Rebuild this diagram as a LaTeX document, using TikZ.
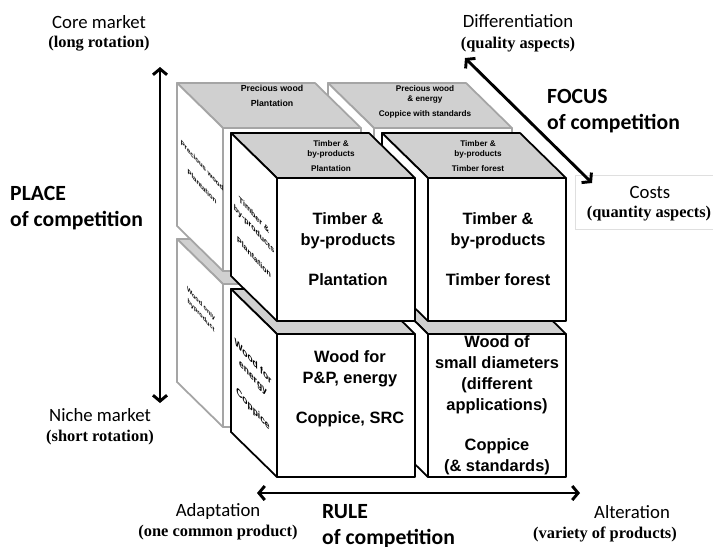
\documentclass[tikz,border=0pt]{standalone}
\usepackage{fontspec}
\setmainfont{Carlito}
\newfontfamily\timesfont{Liberation Serif}
\newfontfamily\arialfont{Liberation Sans}
\usepackage{tikz}
\usetikzlibrary{arrows.meta}

\definecolor{topgray}{RGB}{208,208,208}
\definecolor{backgray}{RGB}{165,165,165}

\tikzstyle{market} = [inner sep=0pt, font=\fontsize{16}{19}\selectfont]
\tikzstyle{subnote} = [inner sep=0pt, font=\timesfont\bfseries\fontsize{14}{17}\selectfont]
\tikzstyle{axistitle} = [inner sep=0pt, anchor=west, align=left, font=\bfseries\fontsize{18.5}{22}\selectfont]
\tikzstyle{frontlabel} = [inner sep=0pt, align=center, font=\arialfont\bfseries\fontsize{14}{18}\selectfont]
\tikzstyle{toplabel} = [inner sep=0pt, align=center, font=\arialfont\bfseries\fontsize{7}{8.5}\selectfont]
\tikzstyle{sidelabel} = [inner sep=0pt, align=center, yslant=-1.1, xscale=0.85, font=\arialfont\bfseries\fontsize{7}{12}\selectfont]
\tikzstyle{arrow} = [line width=2.5pt, <->, >={Straight Barb[length=5pt,width=12pt]}]
\tikzstyle{frontline} = [line width=1.5pt, draw=black, line join=round]
\tikzstyle{backline} = [line width=1.5pt, draw=backgray, line join=round]

% one block: front face top-left corner, line style
\newcommand{\woodcube}[3]{%
  \filldraw[#3, fill=white] (#1,#2) rectangle ++(138,143);
  \filldraw[#3, fill=topgray] (#1,#2) -- ++(-46,-45) -- ++(138,0) -- ++(46,45) -- cycle;
  \filldraw[#3, fill=white] (#1,#2) -- ++(-46,-45) -- ++(0,143) -- ++(46,45) -- cycle;
}

\begin{document}
\begin{tikzpicture}[x=0.03cm, y=-0.03cm]
  \useasboundingbox (0,0) rectangle (713,546);

  % back row
  \woodcube{374}{284}{backline}
  \woodcube{223}{284}{backline}
  \woodcube{374}{128}{backline}
  \woodcube{223}{128}{backline}
  % front row
  \woodcube{428}{334}{frontline}
  \woodcube{277}{334}{frontline}
  \woodcube{428}{178}{frontline}
  \woodcube{277}{178}{frontline}

  % back blocks
  \node(preciousTop)[toplabel, font=\arialfont\bfseries\fontsize{7.5}{9}\selectfont] at (272,96) {Precious wood\\[4pt]Plantation};
  \node(preciousSide)[sidelabel, font=\arialfont\bfseries\fontsize{6}{9}\selectfont] at (202,176) {Precious wood\\[9pt]Plantation};
  \node(energyTop)[toplabel] at (425,102) {Precious wood\\\& energy\\[4pt]Coppice with standards};
  \node(byproductSide)[sidelabel, font=\arialfont\bfseries\fontsize{5.5}{10}\selectfont] at (201,310) {Wood only\\byproduct};

  % front blocks
  \node(plantTop)[toplabel] at (331,156) {Timber \&\\by-products\\[4pt]Plantation};
  \node(plantSide)[sidelabel] at (254,236) {Timber \&\\by-products\\[12pt]Plantation};
  \node(plantFront)[frontlabel] at (348,249) {Timber \&\\by-products\\[16pt]Plantation};
  \node(forestTop)[toplabel] at (478,156) {Timber \&\\by-products\\[4pt]Timber forest};
  \node(forestFront)[frontlabel] at (498,249) {Timber \&\\by-products\\[16pt]Timber forest};
  \node(coppiceSide)[sidelabel, font=\arialfont\bfseries\fontsize{8.5}{13.5}\selectfont] at (253,386) {Wood for\\energy\\[13.5pt]Coppice};
  \node(coppiceFront)[frontlabel] at (350,389) {Wood for\\P\&P, energy\\[16pt]Coppice, SRC};
  \node(smallFront)[frontlabel] at (497,405) {Wood of\\small diameters\\(different\\applications)\\[16pt]Coppice\\(\& standards)};

  % place axis
  \node(coreMarket)[market] at (99,22) {Core market};
  \node(coreNote)[subnote] at (99,44) {(long rotation)};
  \node(nicheMarket)[market] at (100,415) {Niche market};
  \node(nicheNote)[subnote] at (100,438) {(short rotation)};
  \node(place)[axistitle] at (10,208) {PLACE\\of competition};
  \coordinate (placeTop) at (160,67);
  \coordinate (placeBot) at (160,403);
  \draw[arrow] (placeTop) -- (placeBot);

  % focus axis
  \node(diff)[market] at (518,21) {Differentiation};
  \node(diffNote)[subnote] at (518,45) {(quality aspects)};
  \node(costsBox)[draw=gray!25, line width=0.6pt, anchor=north west, inner sep=0pt, minimum width=4.3cm, minimum height=1.62cm] at (575,175) {};
  \node(costs)[market] at (650,192) {Costs};
  \node(costsNote)[subnote] at (649,214) {(quantity aspects)};
  \node(focus)[axistitle] at (547,111) {FOCUS\\of competition};
  \coordinate (focusTop) at (465,58);
  \coordinate (focusBot) at (592,183);
  \draw[arrow] (focusTop) -- (focusBot);

  % rule axis
  \node(adapt)[market] at (218,511) {Adaptation};
  \node(adaptNote)[subnote] at (218,533) {(one common product)};
  \node(alter)[market] at (632,512) {Alteration};
  \node(alterNote)[subnote] at (605,534) {(variety of products)};
  \node(rule)[axistitle] at (322,526) {RULE\\of competition};
  \coordinate (ruleLeft) at (257,493);
  \coordinate (ruleRight) at (580,493);
  \draw[arrow] (ruleLeft) -- (ruleRight);
\end{tikzpicture}
\end{document}
